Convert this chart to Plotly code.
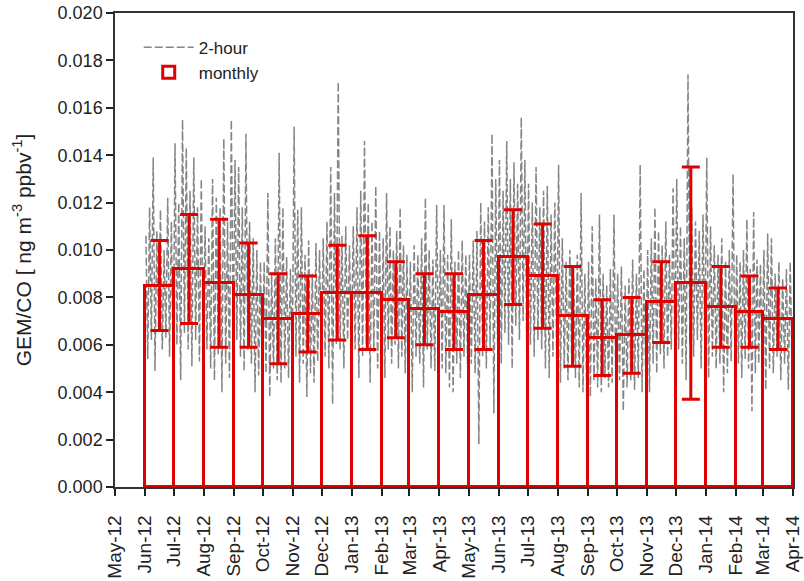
import pandas as pd
import plotly.graph_objects as go

# ---------------- data ----------------
months = ["2012-06", "2012-07", "2012-08", "2012-09", "2012-10", "2012-11",
          "2012-12", "2013-01", "2013-02", "2013-03", "2013-04", "2013-05",
          "2013-06", "2013-07", "2013-08", "2013-09", "2013-10", "2013-11",
          "2013-12", "2014-01", "2014-02", "2014-03"]

monthly_mean = [0.0085, 0.0092, 0.0086, 0.0081, 0.0071, 0.0073,
                0.0082, 0.0082, 0.0079, 0.0075, 0.0074, 0.0081,
                0.0097, 0.0089, 0.0072, 0.0063, 0.0064, 0.0078,
                0.0086, 0.0076, 0.0074, 0.0071]

monthly_sd = [0.0019, 0.0023, 0.0027, 0.0022, 0.0019, 0.0016,
              0.0020, 0.0024, 0.0016, 0.0015, 0.0016, 0.0023,
              0.0020, 0.0022, 0.0021, 0.0016, 0.0016, 0.0017,
              0.0049, 0.0017, 0.0015, 0.0013]

# 2-hour ratios (alternating highs / lows), one list per month
jun12 = [0.0106,0.0054,0.0118,0.0062,0.0139,0.0049,0.0108,0.0066,0.0117,0.0058,0.0100,0.0063,0.0122,0.0055,0.0112,0.0048]
jul12 = [0.0145,0.0060,0.0120,0.0045,0.0155,0.0065,0.0143,0.0058,0.0125,0.0051,0.0139,0.0062,0.0118,0.0053,0.0130,0.0057]
aug12 = [0.0110,0.0058,0.0105,0.0050,0.0130,0.0045,0.0122,0.0056,0.0118,0.0040,0.0147,0.0052,0.0112,0.0046,0.0155,0.0060]
sep12 = [0.0138,0.0062,0.0135,0.0055,0.0118,0.0049,0.0149,0.0058,0.0112,0.0052,0.0105,0.0040,0.0100,0.0047,0.0095,0.0044]
oct12 = [0.0095,0.0048,0.0124,0.0038,0.0090,0.0050,0.0105,0.0045,0.0141,0.0044,0.0118,0.0050,0.0097,0.0046,0.0092,0.0051]
nov12 = [0.0152,0.0055,0.0117,0.0044,0.0118,0.0052,0.0098,0.0038,0.0104,0.0048,0.0090,0.0044,0.0103,0.0053,0.0100,0.0050]
dec12 = [0.0105,0.0055,0.0112,0.0050,0.0135,0.0035,0.0124,0.0060,0.0171,0.0058,0.0106,0.0050,0.0110,0.0062,0.0102,0.0056]
jan13 = [0.0110,0.0058,0.0118,0.0046,0.0125,0.0055,0.0146,0.0060,0.0120,0.0044,0.0112,0.0057,0.0127,0.0050,0.0108,0.0046]
feb13 = [0.0105,0.0046,0.0124,0.0058,0.0110,0.0052,0.0100,0.0060,0.0108,0.0050,0.0118,0.0055,0.0102,0.0048,0.0098,0.0052]
mar13 = [0.0095,0.0040,0.0102,0.0055,0.0098,0.0052,0.0105,0.0042,0.0122,0.0058,0.0100,0.0050,0.0096,0.0049,0.0119,0.0054]
apr13 = [0.0100,0.0050,0.0119,0.0048,0.0098,0.0042,0.0113,0.0040,0.0095,0.0052,0.0100,0.0046,0.0104,0.0055,0.0098,0.0050]
may13 = [0.0098,0.0052,0.0104,0.0048,0.0108,0.0018,0.0120,0.0055,0.0112,0.0050,0.0118,0.0058,0.0149,0.0031,0.0130,0.0060]
jun13 = [0.0138,0.0052,0.0125,0.0065,0.0146,0.0060,0.0130,0.0050,0.0137,0.0068,0.0128,0.0062,0.0156,0.0070,0.0138,0.0058]
jul13 = [0.0128,0.0060,0.0120,0.0055,0.0135,0.0062,0.0118,0.0058,0.0125,0.0050,0.0127,0.0046,0.0115,0.0055,0.0120,0.0052]
aug13 = [0.0136,0.0044,0.0105,0.0050,0.0095,0.0045,0.0100,0.0052,0.0092,0.0046,0.0098,0.0042,0.0124,0.0040,0.0090,0.0038]
sep13 = [0.0095,0.0038,0.0110,0.0045,0.0088,0.0042,0.0115,0.0040,0.0090,0.0046,0.0085,0.0042,0.0092,0.0044,0.0115,0.0040]
oct13 = [0.0090,0.0045,0.0093,0.0032,0.0085,0.0042,0.0088,0.0045,0.0096,0.0041,0.0090,0.0046,0.0136,0.0040,0.0092,0.0044]
nov13 = [0.0100,0.0040,0.0105,0.0052,0.0118,0.0048,0.0108,0.0056,0.0102,0.0050,0.0112,0.0055,0.0098,0.0058,0.0126,0.0052]
dec13 = [0.0130,0.0058,0.0110,0.0052,0.0105,0.0045,0.0174,0.0060,0.0118,0.0055,0.0112,0.0062,0.0108,0.0050,0.0115,0.0057]
jan14 = [0.0139,0.0046,0.0110,0.0055,0.0102,0.0050,0.0098,0.0052,0.0105,0.0040,0.0095,0.0048,0.0100,0.0053,0.0132,0.0050]
feb14 = [0.0098,0.0052,0.0095,0.0046,0.0100,0.0054,0.0113,0.0050,0.0092,0.0032,0.0116,0.0048,0.0096,0.0052,0.0094,0.0050]
mar14 = [0.0100,0.0041,0.0107,0.0050,0.0105,0.0048,0.0090,0.0055,0.0095,0.0045,0.0088,0.0052,0.0092,0.0041,0.0095,0.0050]

two_hour_by_month = [jun12, jul12, aug12, sep12, oct12, nov12, dec12, jan13, feb13, mar13,
                     apr13, may13, jun13, jul13, aug13, sep13, oct13, nov13, dec13, jan14,
                     feb14, mar14]

x_range = ["2012-05-01", "2014-04-01"]
y_range = [0, 0.020]

# ---------------- derived positions (from the data) ----------------
starts = pd.to_datetime([m + "-01" for m in months])
ends = starts + pd.offsets.MonthBegin(1)
durations = ends - starts
centers = starts + durations / 2
widths_ms = [d.total_seconds() * 1000 for d in durations]

tx, ty = [], []
for s, d, vals in zip(starts, durations, two_hour_by_month):
    n = len(vals)
    for i, v in enumerate(vals):
        tx.append(s + d * ((i + 0.5) / n))
        ty.append(v)

# ---------------- figure ----------------
fig = go.Figure()

fig.add_trace(go.Scatter(
    x=tx, y=ty, mode="lines", name="2-hour",
    line=dict(color="#858585", width=1.5, dash="8px,3px"),
))

# bars on an overlaid (identical) axis pair so they are drawn above the 2-hour line
fig.add_trace(go.Bar(
    x=centers, y=monthly_mean, width=widths_ms, name="monthly",
    xaxis="x2", yaxis="y2",
    marker=dict(color="rgba(0,0,0,0)", line=dict(color="#e00000", width=3)),
    error_y=dict(type="data", array=monthly_sd, visible=True,
                 color="#e00000", thickness=3, width=9),
))

font_family = "Liberation Sans, Arial, sans-serif"

fig.update_layout(
    width=804, height=581,
    margin=dict(l=115, r=11, t=13, b=94),
    paper_bgcolor="white", plot_bgcolor="white",
    font=dict(family=font_family, size=18, color="#222"),
    showlegend=True,
    legend=dict(x=0.035, y=0.965, xanchor="left", yanchor="top",
                bgcolor="rgba(0,0,0,0)", font=dict(size=17, color="#222"),
                itemwidth=50, tracegroupgap=0),
    bargap=0,
    xaxis=dict(
        type="date", range=x_range,
        tick0="2012-05-01", dtick="M1", tickformat="%b-%y",
        tickangle=-90,
        ticks="outside", ticklen=7, tickwidth=1.5, tickcolor="#222",
        ticklabelstandoff=12,
        showline=True, linecolor="#333", linewidth=1.5, mirror=True,
        showgrid=False, zeroline=False, automargin=False,
        tickfont=dict(size=19, color="#222"),
    ),
    yaxis=dict(
        range=y_range, dtick=0.002, tick0=0, tickformat=".3f",
        ticks="outside", ticklen=7, tickwidth=1.5, tickcolor="#222",
        showline=True, linecolor="#333", linewidth=1.5, mirror=True,
        showgrid=False, zeroline=False, automargin=False,
        tickfont=dict(size=18, color="#222"),
        title=dict(text="GEM/CO [ ng m<sup>-3</sup> ppbv<sup>-1</sup>]",
                   font=dict(size=21, color="#222"), standoff=20),
    ),
    xaxis2=dict(type="date", range=x_range, overlaying="x", visible=False),
    yaxis2=dict(range=y_range, overlaying="y", visible=False),
)

fig.write_html("out.html")
